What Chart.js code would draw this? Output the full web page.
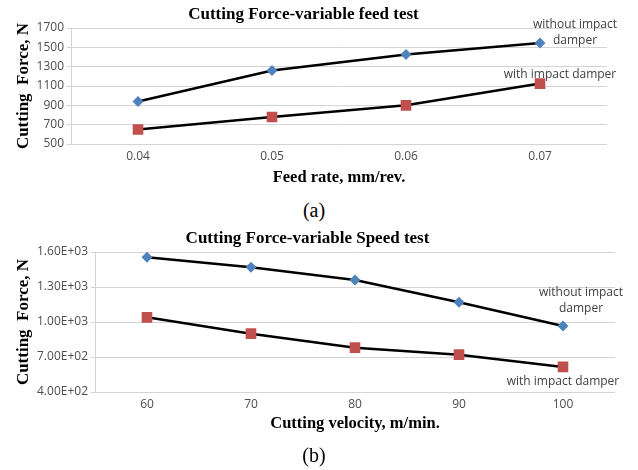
<!DOCTYPE html>
<html>
<head>
<meta charset="utf-8">
<script src="https://cdn.jsdelivr.net/npm/chart.js@4"></script>
<style>
    html, body { margin: 0; padding: 0; background: #fff; }
    #page { position: relative; width: 638px; height: 470px; overflow: hidden; }
    .box { position: absolute; left: 0; width: 638px; }
    .caption {
        position: absolute; left: 0; width: 628px; text-align: center;
        font-family: "Liberation Serif", serif; font-size: 20px; color: #000;
        line-height: 20px;
    }
</style>
</head>
<body>
<div id="page">
    <div class="box" style="top:0;height:195px"><canvas id="feedChart"></canvas></div>
    <div class="caption" style="top:200px">(a)</div>
    <div class="box" style="top:222px;height:225px"><canvas id="speedChart"></canvas></div>
    <div class="caption" style="top:445px">(b)</div>
</div>
<script>
// ============================================
// DATA
// ============================================

const feedRates = ["0.04", "0.05", "0.06", "0.07"];
const feedWithout = [940, 1260, 1425, 1545];
const feedWith = [650, 780, 900, 1125];
const feedTicks = [500, 700, 900, 1100, 1300, 1500, 1700];

const speeds = ["60", "70", "80", "90", "100"];
const speedWithout = [1555, 1470, 1360, 1170, 965];
const speedWith = [1040, 900, 780, 720, 615];
const speedTicks = [400, 700, 1000, 1300, 1600];

const labelWithout = ["without impact", "damper"];
const labelWith = ["with impact damper"];

// ============================================
// UTILITIES
// ============================================

const BLUE = "#4f81bd";
const RED = "#c0504d";
const GRID = "#d4d4d4";
const TICK = "#4d4d4d";
const SERIF = "'Liberation Serif', serif";
const SANS = "'Open Sans', sans-serif";

const sciFormat = (v) => {
    const [m, e] = v.toExponential(2).split("e");
    const sign = e[0] === "-" ? "-" : "+";
    const digits = e.replace(/[+-]/, "").padStart(2, "0");
    return `${m}E${sign}${digits}`;
};

// draws the "with / without impact damper" notes next to the last point
const notesPlugin = {
    id: "notes",
    afterDatasetsDraw(chart, args, opts) {
        const { ctx } = chart;
        ctx.save();
        ctx.font = `12px ${SANS}`;
        ctx.fillStyle = "#404040";
        ctx.textAlign = "center";
        ctx.textBaseline = "middle";
        opts.items.forEach((item) => {
            const meta = chart.getDatasetMeta(item.dataset);
            const pt = meta.data[meta.data.length - 1];
            item.lines.forEach((line, i) => {
                ctx.fillText(line, pt.x + item.dx, pt.y + item.dy + i * 16);
            });
        });
        ctx.restore();
    },
};

// ============================================
// CHART CREATION
// ============================================

function createForceChart(element, cfg) {
    return new Chart(element, {
        type: "line",
        data: {
            labels: cfg.labels,
            datasets: [
                {
                    label: "without impact damper",
                    data: cfg.without,
                    borderColor: "#000",
                    borderWidth: 2.5,
                    pointStyle: "rectRot",
                    pointRadius: 5.5,
                    pointBackgroundColor: BLUE,
                    pointBorderColor: BLUE,
                    pointBorderWidth: 0,
                },
                {
                    label: "with impact damper",
                    data: cfg.with,
                    borderColor: "#000",
                    borderWidth: 2.5,
                    pointStyle: "rect",
                    pointRadius: 7.5,
                    pointBackgroundColor: RED,
                    pointBorderColor: RED,
                    pointBorderWidth: 0,
                },
            ],
        },
        options: {
            responsive: true,
            maintainAspectRatio: false,
            animation: false,
            layout: { padding: { left: 0, right: cfg.padRight, top: 0, bottom: 0 } },
            plugins: {
                legend: { display: false },
                tooltip: { enabled: false },
                title: {
                    display: true,
                    text: cfg.title,
                    color: "#000",
                    font: { family: SERIF, size: 17, weight: "bold" },
                    padding: cfg.titlePad,
                },
                notes: { items: cfg.notes },
            },
            scales: {
                x: {
                    offset: true,
                    grid: { display: false, drawTicks: false },
                    border: { display: false },
                    ticks: {
                        color: TICK,
                        padding: 5,
                        font: { family: SANS, size: 12 },
                    },
                    title: {
                        display: true,
                        text: cfg.xTitle,
                        color: "#000",
                        font: { family: SERIF, size: 16.5, weight: "bold" },
                        padding: { top: 0, bottom: cfg.xTitleBottom },
                    },
                    afterFit: (scale) => { scale.height = cfg.xHeight; },
                },
                y: {
                    min: cfg.ticks[0],
                    max: cfg.ticks[cfg.ticks.length - 1],
                    afterBuildTicks: (scale) => {
                        scale.ticks = cfg.ticks.map((v) => ({ value: v }));
                    },
                    grid: { color: GRID, lineWidth: 1, tickLength: 4 },
                    border: { display: true, color: GRID },
                    ticks: {
                        color: TICK,
                        padding: 3,
                        font: { family: SANS, size: 12 },
                        callback: cfg.format,
                    },
                    title: {
                        display: true,
                        text: "Cutting  Force, N",
                        color: "#000",
                        font: { family: SERIF, size: 17, weight: "bold" },
                        padding: { top: 13, bottom: 0 },
                    },
                    afterFit: (scale) => { scale.width = cfg.yWidth; },
                },
            },
        },
        plugins: [notesPlugin],
    });
}

// ============================================
// CHARTS INITIALIZATION
// ============================================

createForceChart(document.getElementById("feedChart"), {
    labels: feedRates,
    without: feedWithout,
    with: feedWith,
    ticks: feedTicks,
    format: (v) => String(v),
    title: "Cutting Force-variable feed test",
    titlePad: { top: 4, bottom: 3.6 },
    xTitle: "Feed rate, mm/rev.",
    xTitleBottom: 7,
    xHeight: 51,
    yWidth: 71,
    padRight: 31,
    notes: [
        { dataset: 0, lines: labelWithout, dx: 35, dy: -18 },
        { dataset: 1, lines: labelWith, dx: 20, dy: -9 },
    ],
});

createForceChart(document.getElementById("speedChart"), {
    labels: speeds,
    without: speedWithout,
    with: speedWith,
    ticks: speedTicks,
    format: (v) => sciFormat(v),
    title: "Cutting Force-variable Speed test",
    titlePad: { top: 6, bottom: 3.6 },
    xTitle: "Cutting velocity, m/min.",
    xTitleBottom: 13,
    xHeight: 55,
    yWidth: 95,
    padRight: 23,
    notes: [
        { dataset: 0, lines: labelWithout, dx: 18, dy: -34 },
        { dataset: 1, lines: labelWith, dx: 0, dy: 15 },
    ],
});
</script>
</body>
</html>
